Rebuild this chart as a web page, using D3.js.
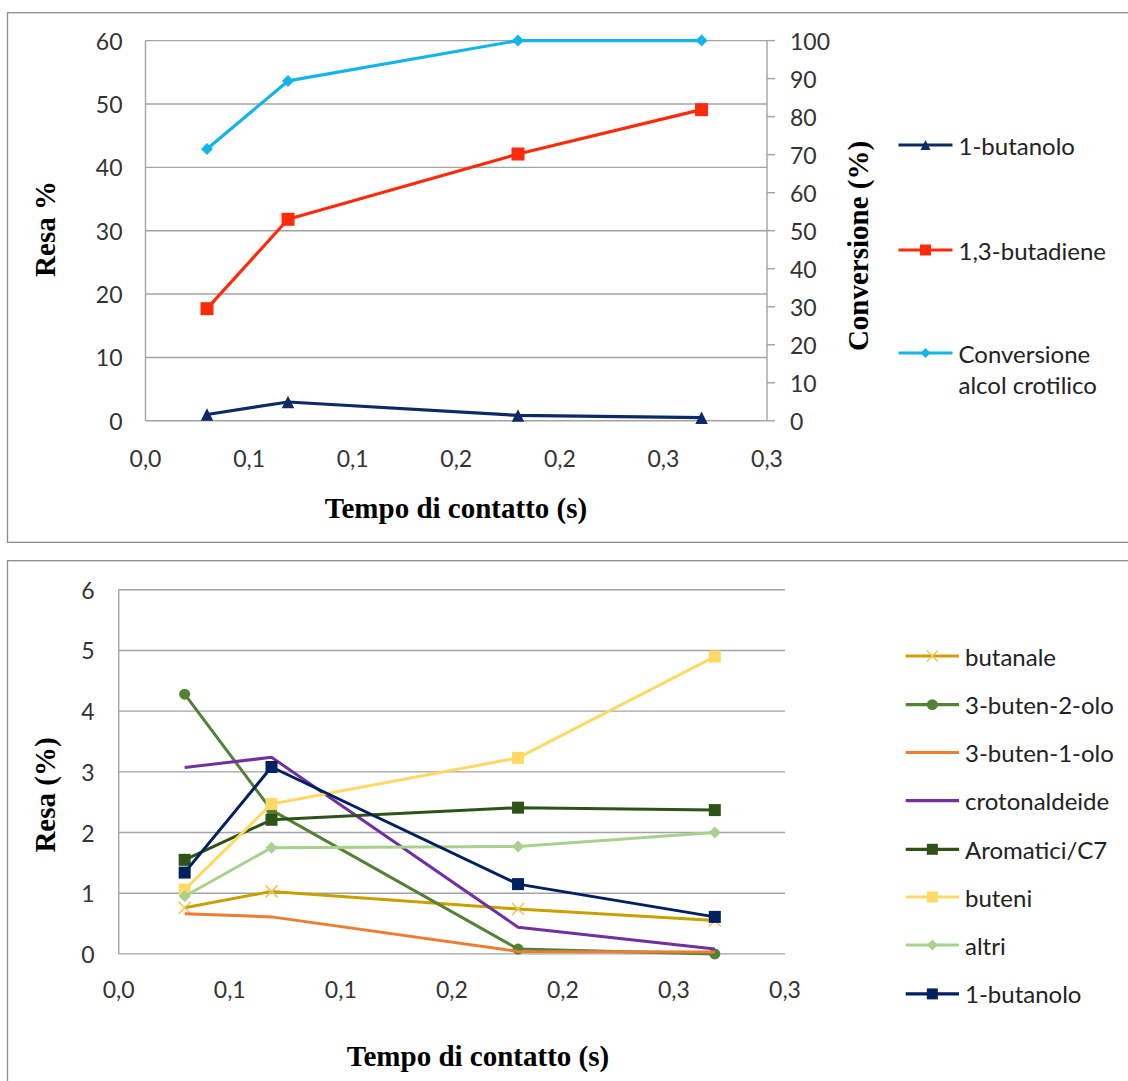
<!DOCTYPE html>
<html><head><meta charset="utf-8">
<script src="https://cdn.jsdelivr.net/npm/d3@7"></script>
<style>body{margin:0;background:#fff}svg{display:block}</style>
</head><body><svg id="c" width="1128" height="1081"></svg>
<script>
// ---------- DATA ----------
const contactTimes = [0.0297, 0.0688, 0.1798, 0.2684];
const xTickValues = [0, 0.05, 0.1, 0.15, 0.2, 0.25, 0.3];
const xTickLabels = ["0,0", "0,1", "0,1", "0,2", "0,2", "0,3", "0,3"];

// top chart
const topNames = ["1-butanolo", "1,3-butadiene", "Conversione alcol crotilico"];
const topButanolo = [1.0, 2.97, 0.85, 0.5];
const topButadiene = [17.7, 31.8, 42.1, 49.1];
const topConversione = [71.5, 89.4, 100, 100];
const topLeftTicks = [0, 10, 20, 30, 40, 50, 60];
const topRightTicks = [0, 10, 20, 30, 40, 50, 60, 70, 80, 90, 100];

// bottom chart
const bottomNames = ["butanale", "3-buten-2-olo", "3-buten-1-olo", "crotonaldeide", "Aromatici/C7", "buteni", "altri", "1-butanolo"];
const butanale = [0.76, 1.03, 0.74, 0.55];
const buten2olo = [4.28, 2.37, 0.08, 0.0];
const buten1olo = [0.66, 0.61, 0.04, 0.03];
const crotonaldeide = [3.07, 3.24, 0.44, 0.08];
const aromatici = [1.55, 2.21, 2.41, 2.37];
const buteni = [1.06, 2.47, 3.23, 4.9];
const altri = [0.95, 1.75, 1.77, 2.0];
const butanolo = [1.34, 3.08, 1.15, 0.61];
const bottomYTicks = [0, 1, 2, 3, 4, 5, 6];

// ---------- STYLE ----------
const GRID = "#A3A3A3";
const TICKFONT = "Lato, 'Open Sans', sans-serif";
const TITLEFONT = "'Liberation Serif', 'Times New Roman', serif";

const svg = d3.select("#c");

function markerPath(type, s) {
  const h = s / 2;
  switch (type) {
    case "square": return `M${-h},${-h}H${h}V${h}H${-h}Z`;
    case "diamond": return `M0,${-h}L${h},0L0,${h}L${-h},0Z`;
    case "triangle": return `M0,${-h}L${h},${h}L${-h},${h}Z`;
    case "circle": return `M${h},0A${h},${h} 0 1,1 ${-h},0A${h},${h} 0 1,1 ${h},0Z`;
    case "x": return `M${-h},${-h}L${h},${h}M${-h},${h}L${h},${-h}`;
  }
  return "";
}

function drawMarker(g, type, x, y, size, color, mcolor) {
  if (!type) return;
  const p = g.append("path").attr("d", markerPath(type, size))
    .attr("transform", `translate(${x},${y})`);
  if (type === "x") p.attr("fill", "none").attr("stroke", mcolor || color).attr("stroke-width", 1.6);
  else p.attr("fill", mcolor || color).attr("stroke", "none");
}

function drawSeries(g, xs, ys, values, s) {
  const pts = values.map((v, i) => [xs(contactTimes[i]), ys(v)]);
  g.append("path").datum(pts)
    .attr("d", d3.line())
    .attr("fill", "none").attr("stroke", s.color).attr("stroke-width", s.width || 3)
    .attr("stroke-linejoin", "round");
  pts.forEach(p => drawMarker(g, s.marker, p[0], p[1], s.size, s.color, s.mcolor));
}

function drawLegendItem(g, x1, x2, y, s, label, lsize, extraLine) {
  g.append("line").attr("x1", x1).attr("x2", x2).attr("y1", y).attr("y2", y)
    .attr("stroke", s.color).attr("stroke-width", 3.2);
  drawMarker(g, s.marker, (x1 + x2) / 2, y, lsize, s.color, s.mcolor);
  const t = g.append("text").attr("x", x2 + 6).attr("y", y)
    .attr("dominant-baseline", "central")
    .style("font-family", TICKFONT).style("font-size", "24px").attr("fill", "#222")
    .text(label);
  if (extraLine) {
    g.append("text").attr("x", x2 + 6).attr("y", y + 31)
      .attr("dominant-baseline", "central")
      .style("font-family", TICKFONT).style("font-size", "24px").attr("fill", "#222")
      .text(extraLine);
  }
}

function frame(x, y, w, h) {
  svg.append("rect").attr("x", x).attr("y", y).attr("width", w).attr("height", h)
    .attr("fill", "none").attr("stroke", "#8C8C8C").attr("stroke-width", 1.3);
}

// ---------- PANEL FRAMES ----------
frame(7.5, 12.7, 1130, 529.6);
frame(7.5, 560.7, 1130, 540);

// ---------- TOP CHART ----------
{
  const g = svg.append("g");
  const x = d3.scaleLinear().domain([0, 0.3]).range([145.5, 767]);
  const yL = d3.scaleLinear().domain([0, 60]).range([420.8, 40.6]);
  const yR = d3.scaleLinear().domain([0, 100]).range([420.8, 40.6]);

  // gridlines
  g.selectAll(".grid").data(topLeftTicks).enter().append("line")
    .attr("x1", x.range()[0]).attr("x2", x.range()[1])
    .attr("y1", d => yL(d)).attr("y2", d => yL(d))
    .attr("stroke", GRID).attr("stroke-width", 1.4);
  // axes lines
  g.append("line").attr("x1", x(0)).attr("x2", x(0)).attr("y1", yL(0)).attr("y2", yL(60))
    .attr("stroke", GRID).attr("stroke-width", 1.4);
  g.append("line").attr("x1", x(0.3)).attr("x2", x(0.3)).attr("y1", yR(0)).attr("y2", yR(100))
    .attr("stroke", GRID).attr("stroke-width", 1.4);
  // right ticks
  g.selectAll(".rt").data(topRightTicks).enter().append("line")
    .attr("x1", x(0.3)).attr("x2", x(0.3) + 8)
    .attr("y1", d => yR(d)).attr("y2", d => yR(d))
    .attr("stroke", GRID).attr("stroke-width", 1.4);

  // labels
  g.selectAll(".lt").data(topLeftTicks).enter().append("text")
    .attr("x", x(0) - 23).attr("y", d => yL(d)).attr("text-anchor", "end")
    .attr("dominant-baseline", "central")
    .style("font-family", TICKFONT).style("font-size", "23px").attr("fill", "#333")
    .text(d => d);
  g.selectAll(".rtl").data(topRightTicks).enter().append("text")
    .attr("x", x(0.3) + 23).attr("y", d => yR(d)).attr("text-anchor", "start")
    .attr("dominant-baseline", "central")
    .style("font-family", TICKFONT).style("font-size", "23px").attr("fill", "#333")
    .text(d => d);
  g.selectAll(".xt").data(xTickValues).enter().append("text")
    .attr("x", d => x(d)).attr("y", yL(0) + 37).attr("text-anchor", "middle")
    .attr("dominant-baseline", "central")
    .style("font-family", TICKFONT).style("font-size", "23px").attr("fill", "#333")
    .text((d, i) => xTickLabels[i]);

  // titles
  g.append("text").attr("x", 456).attr("y", 508).attr("text-anchor", "middle")
    .attr("dominant-baseline", "central")
    .style("font-family", TITLEFONT).style("font-size", "29px").style("font-weight", "bold")
    .text("Tempo di contatto (s)");
  g.append("text").attr("transform", "translate(45,229) rotate(-90)").attr("text-anchor", "middle")
    .attr("dominant-baseline", "central")
    .style("font-family", TITLEFONT).style("font-size", "29px").style("font-weight", "bold")
    .text("Resa %");
  g.append("text").attr("transform", "translate(858,246) rotate(-90)").attr("text-anchor", "middle")
    .attr("dominant-baseline", "central")
    .style("font-family", TITLEFONT).style("font-size", "29px").style("font-weight", "bold")
    .text("Conversione (%)");

  const sBut = { color: "#0E2A66", marker: "triangle", size: 12.5, width: 3.2 };
  const sDie = { color: "#FF2A0A", marker: "square", size: 13, width: 3.2 };
  const sConv = { color: "#12B4EC", marker: "diamond", size: 12, width: 3.2 };
  drawSeries(g, x, yL, topButanolo, sBut);
  drawSeries(g, x, yL, topButadiene, sDie);
  drawSeries(g, x, yR, topConversione, sConv);

  drawLegendItem(g, 898.5, 952.5, 145, sBut, topNames[0], 10);
  drawLegendItem(g, 898.5, 952.5, 250, sDie, topNames[1], 11);
  drawLegendItem(g, 898.5, 952.5, 353, sConv, "Conversione", 10, "alcol crotilico");
}

// ---------- BOTTOM CHART ----------
{
  const g = svg.append("g");
  const x = d3.scaleLinear().domain([0, 0.3]).range([118.7, 785]);
  const y = d3.scaleLinear().domain([0, 6]).range([953.9, 589.8]);

  g.selectAll(".grid").data(bottomYTicks).enter().append("line")
    .attr("x1", x.range()[0]).attr("x2", x.range()[1])
    .attr("y1", d => y(d)).attr("y2", d => y(d))
    .attr("stroke", GRID).attr("stroke-width", 1.4);
  g.append("line").attr("x1", x(0)).attr("x2", x(0)).attr("y1", y(0)).attr("y2", y(6))
    .attr("stroke", GRID).attr("stroke-width", 1.4);

  g.selectAll(".lt").data(bottomYTicks).enter().append("text")
    .attr("x", x(0) - 24).attr("y", d => y(d)).attr("text-anchor", "end")
    .attr("dominant-baseline", "central")
    .style("font-family", TICKFONT).style("font-size", "23px").attr("fill", "#333")
    .text(d => d);
  g.selectAll(".xt").data(xTickValues).enter().append("text")
    .attr("x", d => x(d)).attr("y", y(0) + 35).attr("text-anchor", "middle")
    .attr("dominant-baseline", "central")
    .style("font-family", TICKFONT).style("font-size", "23px").attr("fill", "#333")
    .text((d, i) => xTickLabels[i]);

  g.append("text").attr("x", 478).attr("y", 1056).attr("text-anchor", "middle")
    .attr("dominant-baseline", "central")
    .style("font-family", TITLEFONT).style("font-size", "29px").style("font-weight", "bold")
    .text("Tempo di contatto (s)");
  g.append("text").attr("transform", "translate(45,795) rotate(-90)").attr("text-anchor", "middle")
    .attr("dominant-baseline", "central")
    .style("font-family", TITLEFONT).style("font-size", "29px").style("font-weight", "bold")
    .text("Resa (%)");

  const styles = [
    { color: "#C9A000", marker: "x", size: 12, mcolor: "#F2C45A" },
    { color: "#548235", marker: "circle", size: 11 },
    { color: "#ED7D31", marker: null },
    { color: "#7030A0", marker: null },
    { color: "#2F5219", marker: "square", size: 12 },
    { color: "#FFD966", marker: "square", size: 12 },
    { color: "#A9D18E", marker: "diamond", size: 12 },
    { color: "#002060", marker: "square", size: 12 }
  ];
  const bottomValues = [butanale, buten2olo, buten1olo, crotonaldeide, aromatici, buteni, altri, butanolo];
  bottomValues.forEach((vals, i) => drawSeries(g, x, y, vals, styles[i]));

  const legendY = [656, 704.7, 752.5, 800.7, 849.3, 897, 945, 993.9];
  bottomNames.forEach((n, i) => drawLegendItem(g, 905.7, 959, legendY[i], styles[i], n, 11));
}
</script></body></html>
